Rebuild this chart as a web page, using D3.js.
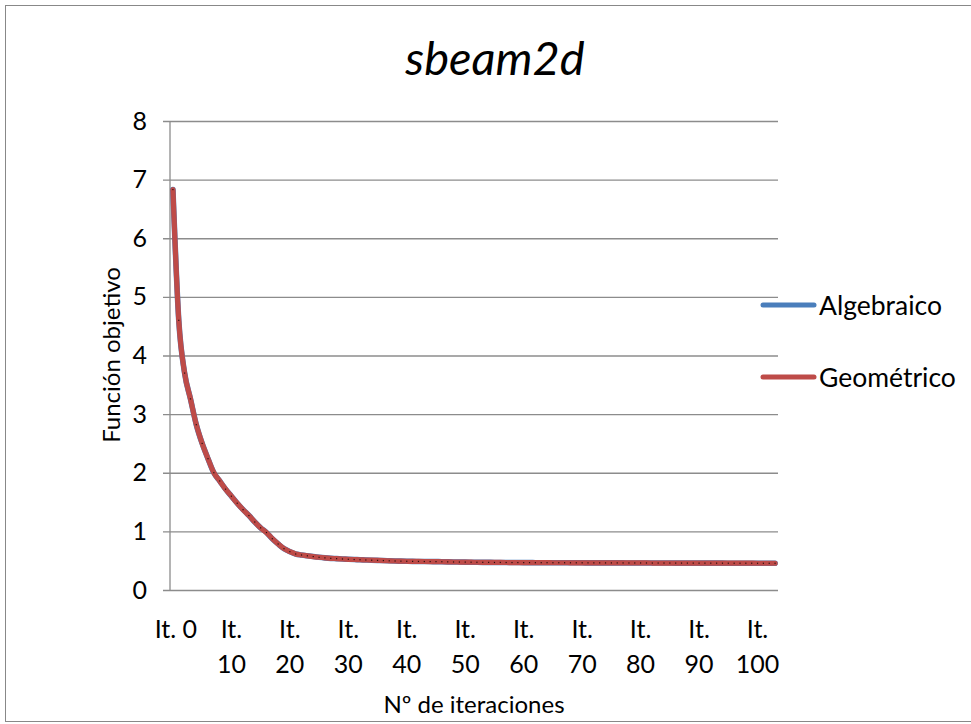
<!DOCTYPE html>
<html>
<head>
<meta charset="utf-8">
<script src="https://cdn.jsdelivr.net/npm/d3@7"></script>
<style>
  body { margin: 0; background: #fff; }
  svg { display: block; font-family: Lato, "Open Sans", sans-serif; }
</style>
</head>
<body>
<svg id="chart"></svg>
<script>
// iteration labels It. 0 .. It. 103, one tick label every 10
var iterations = d3.range(104);
var yTicks = [0, 1, 2, 3, 4, 5, 6, 7, 8];
var seriesNames = ["Algebraico", "Geométrico"];

var geometrico = [
  6.83, 4.6, 3.7, 3.26, 2.82, 2.5, 2.24, 2.0, 1.86, 1.72,
  1.6, 1.48, 1.37, 1.27, 1.16, 1.06, 0.98, 0.875, 0.785, 0.705,
  0.654, 0.614, 0.597, 0.583, 0.570, 0.558, 0.548, 0.540, 0.535, 0.529,
  0.524, 0.520, 0.516, 0.512, 0.508, 0.505, 0.502, 0.498, 0.495, 0.492,
  0.490, 0.488, 0.487, 0.486, 0.485, 0.484, 0.482, 0.480, 0.478, 0.477,
  0.476, 0.474, 0.473, 0.472, 0.471, 0.470, 0.470, 0.469, 0.468, 0.468,
  0.467, 0.467, 0.466, 0.466, 0.466, 0.465, 0.465, 0.465, 0.464, 0.464,
  0.464, 0.463, 0.463, 0.463, 0.462, 0.462, 0.462, 0.462, 0.461, 0.461,
  0.461, 0.461, 0.460, 0.460, 0.460, 0.460, 0.459, 0.459, 0.459, 0.459,
  0.458, 0.458, 0.458, 0.458, 0.458, 0.457, 0.457, 0.457, 0.457, 0.457,
  0.456, 0.456, 0.456, 0.456
];
// algebraic series lies right under the geometric one
var algebraico = [
  6.83, 4.6, 3.7, 3.26, 2.82, 2.5, 2.24, 2.0, 1.86, 1.72,
  1.6, 1.48, 1.37, 1.27, 1.16, 1.06, 0.98, 0.875, 0.785, 0.705,
  0.654, 0.614, 0.597, 0.583, 0.570, 0.558, 0.548, 0.540, 0.535, 0.529,
  0.524, 0.520, 0.516, 0.512, 0.508, 0.505, 0.502, 0.498, 0.495, 0.492,
  0.490, 0.488, 0.487, 0.486, 0.485, 0.484, 0.482, 0.480, 0.478, 0.477,
  0.476, 0.474, 0.473, 0.472, 0.471, 0.470, 0.470, 0.469, 0.468, 0.468,
  0.467, 0.467, 0.466, 0.466, 0.466, 0.465, 0.465, 0.465, 0.464, 0.464,
  0.464, 0.463, 0.463, 0.463, 0.462, 0.462, 0.462, 0.462, 0.461, 0.461,
  0.461, 0.461, 0.460, 0.460, 0.460, 0.460, 0.459, 0.459, 0.459, 0.459,
  0.458, 0.458, 0.458, 0.458, 0.458, 0.457, 0.457, 0.457, 0.457, 0.457,
  0.456, 0.456, 0.456, 0.456
];

var width = 971, height = 724;
var plotLeft = 170, plotRight = 778, plotTop = 121, plotBottom = 590;
var gridColor = "#8c8c8c";
var colors = ["#4a7ebb", "#be4b48"];

var svg = d3.select("#chart").attr("width", width).attr("height", height);

// chart frame
svg.append("rect")
  .attr("x", 5.5).attr("y", 5.5)
  .attr("width", 980).attr("height", 716)
  .attr("fill", "none").attr("stroke", "#888").attr("stroke-width", 1);

var x = d3.scaleBand().domain(iterations).range([plotLeft, plotRight]).padding(0);
var y = d3.scaleLinear().domain([0, 8]).range([plotBottom, plotTop]);
function cx(i) { return x(i) + x.bandwidth() / 2; }

// y axis with gridlines running across the plot
var yAxis = d3.axisLeft(y).tickValues(yTicks)
  .tickSize(-(plotRight - plotLeft + 7)).tickPadding(16);
var gy = svg.append("g").attr("transform", "translate(" + (plotLeft - 7) + ",0)").call(yAxis);
gy.select(".domain").remove();
gy.selectAll(".tick line").attr("stroke", gridColor).attr("stroke-width", 1.3);
gy.selectAll(".tick text").attr("font-size", 25).attr("fill", "#000")
  .attr("font-family", "Lato, sans-serif");

svg.append("line")
  .attr("x1", plotLeft).attr("x2", plotLeft).attr("y1", plotTop).attr("y2", plotBottom)
  .attr("stroke", gridColor).attr("stroke-width", 1.3);

// category labels, every tenth iteration, wrapped like the original
var labelled = iterations.filter(function(i){ return i % 10 === 0 && i <= 100; });
var xl = svg.append("g").selectAll("text").data(labelled).enter().append("text")
  .attr("text-anchor", "middle").attr("font-size", 25).attr("fill", "#000");
xl.each(function(i){
  var t = d3.select(this);
  if (i === 0) {
    t.append("tspan").attr("x", cx(i) + 3).attr("y", 638).text("It. 0");
  } else {
    t.append("tspan").attr("x", cx(i)).attr("y", 638).text("It.");
    t.append("tspan").attr("x", cx(i)).attr("y", 673).text(i);
  }
});

// series
var line = d3.line()
  .x(function(d, i){ return cx(i); })
  .y(function(d){ return y(d); })
  .curve(d3.curveCardinal.tension(0));

svg.append("path").datum(algebraico)
  .attr("d", line).attr("fill", "none")
  .attr("stroke", colors[0]).attr("stroke-width", 5.6)
  .attr("stroke-linecap", "round").attr("stroke-linejoin", "round");
svg.append("path").datum(geometrico)
  .attr("d", line).attr("fill", "none")
  .attr("stroke", colors[1]).attr("stroke-width", 5.2)
  .attr("stroke-linecap", "round").attr("stroke-linejoin", "round");

// small dark point dots seen on the line
svg.append("g").selectAll("rect").data(geometrico).enter().append("rect")
  .attr("x", function(d, i){ return cx(i) - 0.6; })
  .attr("y", function(d){ return y(d) - 0.6; })
  .attr("width", 1.2).attr("height", 1.2)
  .attr("fill", "#2a1010");

// title and axis titles
svg.append("text").attr("x", 495).attr("y", 75)
  .attr("text-anchor", "middle").attr("font-size", 47).attr("font-style", "italic")
  .text("sbeam2d");

svg.append("text").attr("transform", "translate(120,355) rotate(-90)")
  .attr("text-anchor", "middle").attr("font-size", 24)
  .text("Función objetivo");

svg.append("text").attr("x", 474).attr("y", 713)
  .attr("text-anchor", "middle").attr("font-size", 24)
  .text("Nº de iteraciones");

// legend
var legend = svg.append("g").selectAll("g").data(seriesNames).enter().append("g")
  .attr("transform", function(d, i){ return "translate(0," + (305 + i * 72) + ")"; });
legend.append("line")
  .attr("x1", 763).attr("x2", 814).attr("y1", 0).attr("y2", 0)
  .attr("stroke", function(d, i){ return colors[i]; })
  .attr("stroke-width", 5).attr("stroke-linecap", "round");
legend.append("text").attr("x", 819).attr("y", 10)
  .attr("font-size", 26.5).text(function(d){ return d; });
</script>
</body>
</html>
